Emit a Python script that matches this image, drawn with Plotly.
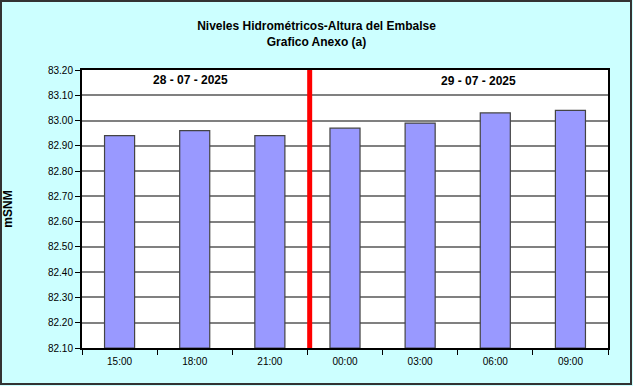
import plotly.graph_objects as go

categories = ["15:00", "18:00", "21:00", "00:00", "03:00", "06:00", "09:00"]
values = [82.94, 82.96, 82.94, 82.97, 82.99, 83.03, 83.04]
date_labels = ["28 - 07 - 2025", "29 - 07 - 2025"]
y_ticks = [82.10 + 0.1 * i for i in range(12)]
y_labels = ["%.2f" % v for v in y_ticks]

W, H = 633, 386
L, R, T, B = 82, 25, 70, 38
pw, ph = W - L - R, H - T - B

def px(x):
    return (x - L) / pw

def py(y):
    return (H - B - y) / ph

fig = go.Figure()
fig.add_trace(go.Bar(
    x=categories, y=[v - 82.10 for v in values], base=82.10,
    marker=dict(color="#9999FF", line=dict(color="#444444", width=1.2)),
    width=0.4, hoverinfo="skip"))

fig.update_layout(
    width=W, height=H,
    margin=dict(l=L, r=R, t=T, b=B, autoexpand=False),
    paper_bgcolor="#CCFFFF", plot_bgcolor="#FFFFFF",
    font=dict(family="Liberation Sans, Arial", size=10, color="#000000"),
    showlegend=False,
    title=dict(text="<b>Niveles Hidrométricos-Altura del Embalse<br>Grafico Anexo (a)</b>",
               x=0.5, xanchor="center", y=1 - 30 / H, yanchor="middle",
               font=dict(size=12, family="Liberation Sans, Arial")),
    xaxis=dict(type="category", tickson="boundaries", ticks="outside", ticklen=5,
               tickcolor="#000", showgrid=False, showline=True, linecolor="#000",
               linewidth=2, mirror=True, range=[-0.5, 6.5], automargin=False,
               tickfont=dict(size=10), ticklabelstandoff=3),
    yaxis=dict(range=[82.10, 83.20], tickvals=y_ticks, ticktext=y_labels,
               ticks="outside", ticklen=5, tickcolor="#000", showgrid=True,
               gridcolor="#808080", gridwidth=1.5, showline=True, linecolor="#000",
               linewidth=2, mirror=True, tickfont=dict(size=10), automargin=False,
               title=dict(text="<b>mSNM</b>", font=dict(size=12), standoff=33)),
    bargap=0.6,
)

fig.add_shape(type="line", xref="x", yref="paper", x0=2.53, x1=2.53, y0=0, y1=1,
              line=dict(color="#FF0000", width=5))

fig.add_annotation(text="<b>%s</b>" % date_labels[0], xref="paper", yref="paper",
                   x=px(190), y=py(80), xanchor="center", yanchor="middle",
                   showarrow=False, font=dict(size=12))
fig.add_annotation(text="<b>%s</b>" % date_labels[1], xref="paper", yref="paper",
                   x=px(478), y=py(81), xanchor="center", yanchor="middle",
                   showarrow=False, font=dict(size=12))

fig.add_shape(type="rect", xref="paper", yref="paper",
              x0=px(1), x1=px(631), y0=py(1), y1=py(384),
              line=dict(color="#333333", width=2), layer="below")

fig.write_html("out.html")
